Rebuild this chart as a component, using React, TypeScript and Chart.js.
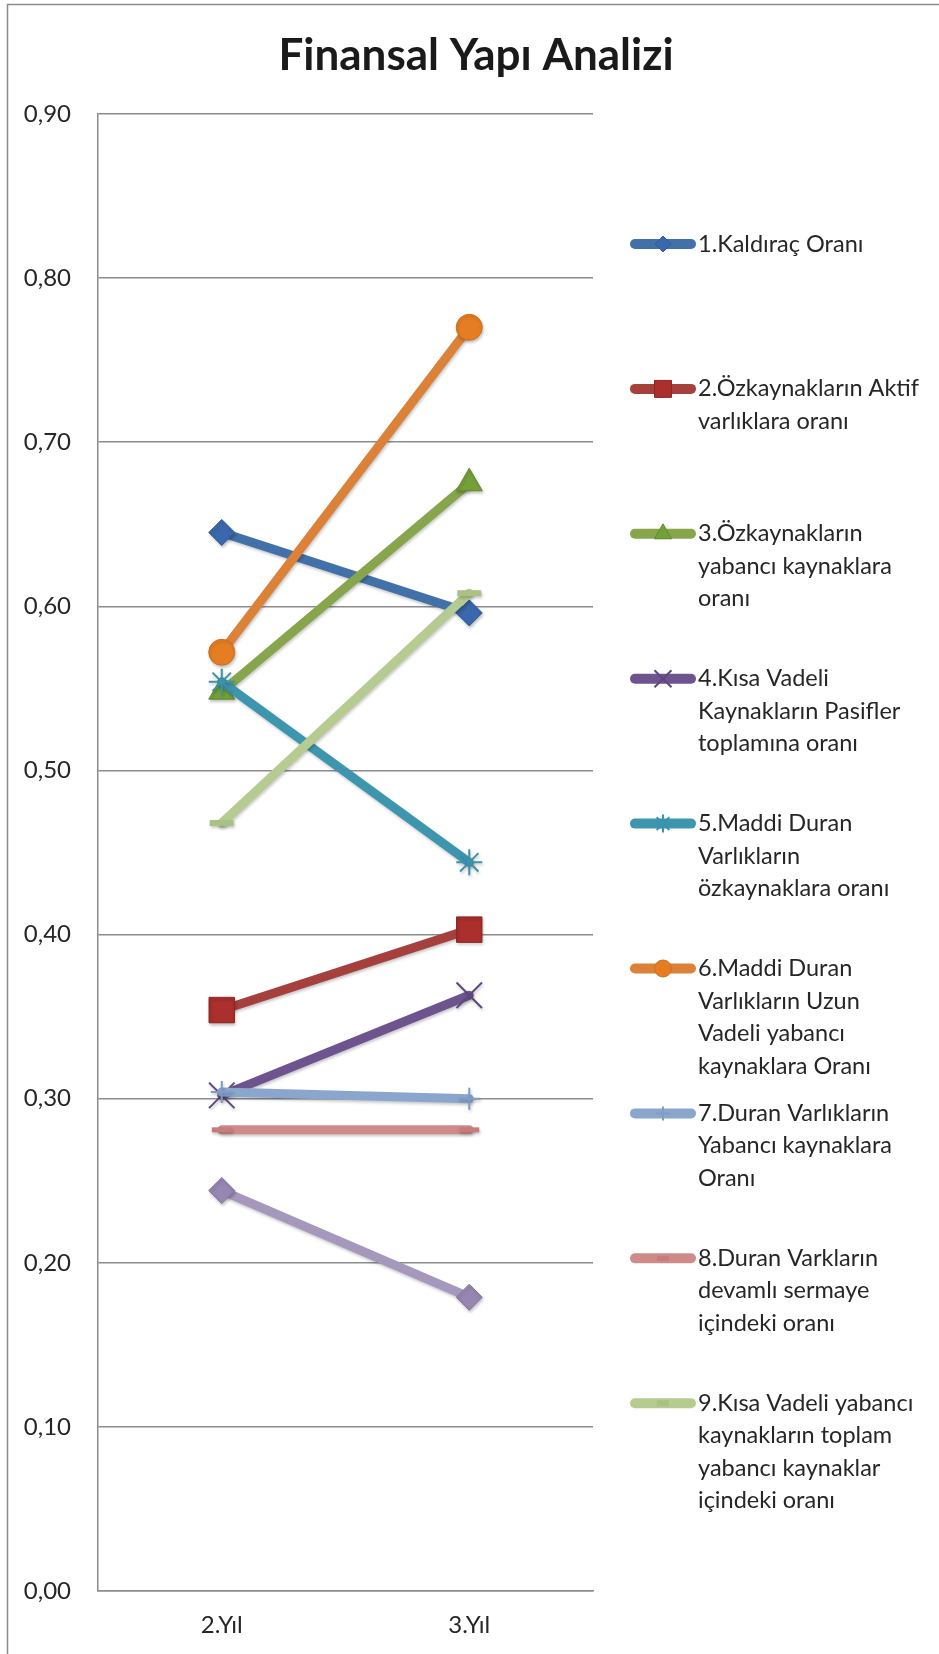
import React, { useEffect, useRef } from 'react';
import { Chart, registerables } from 'chart.js';
import { drawPoint } from 'chart.js/helpers';

Chart.register(...registerables);

// Categories (years)
const years = ['2.Yıl', '3.Yıl'];

// Ratio values per series, one value per year
const kaldiracOrani = [0.645, 0.596];
const ozkaynakAktif = [0.354, 0.403];
const ozkaynakYabanci = [0.548, 0.675];
const kisaVadeliPasif = [0.302, 0.363];
const maddiDuranOzkaynak = [0.554, 0.444];
const maddiDuranUzunVade = [0.572, 0.77];
const duranYabanci = [0.304, 0.3];
const duranDevamli = [0.281, 0.281];
const kisaVadeliYabanci = [0.468, 0.608];
const onuncuSeri = [0.244, 0.179];

// Y axis range and tick step
const yMin = 0;
const yMax = 0.9;
const yStep = 0.1;

// Legend labels (line-wrapped)
const legendLabels: string[][] = [
  ['1.Kaldıraç Oranı'],
  ['2.Özkaynakların Aktif', 'varlıklara oranı'],
  ['3.Özkaynakların', 'yabancı kaynaklara', 'oranı'],
  ['4.Kısa Vadeli', 'Kaynakların Pasifler', 'toplamına oranı'],
  ['5.Maddi Duran', 'Varlıkların', 'özkaynaklara oranı'],
  ['6.Maddi Duran', 'Varlıkların Uzun', 'Vadeli yabancı', 'kaynaklara Oranı'],
  ['7.Duran Varlıkların', 'Yabancı kaynaklara', 'Oranı'],
  ['8.Duran Varkların', 'devamlı sermaye', 'içindeki oranı'],
  ['9.Kısa Vadeli yabancı', 'kaynakların toplam', 'yabancı kaynaklar', 'içindeki oranı'],
];

const title = 'Finansal Yapı Analizi';

type SeriesStyle = {
  line: string;
  fill: string;
  stroke: string;
  style: string;
  radius: number;
  bw: number;
  legendRadius: number;
};

const styles: SeriesStyle[] = [
  { line: '#4270A8', fill: '#3A68AC', stroke: '#30599A', style: 'rectRot', radius: 13, bw: 1, legendRadius: 8 },
  { line: '#A5403D', fill: '#AA2F2D', stroke: '#8E2524', style: 'rect', radius: 18, bw: 1, legendRadius: 12 },
  { line: '#87A54B', fill: '#74A03A', stroke: '#5F8A2E', style: 'triangle', radius: 15, bw: 1, legendRadius: 10 },
  { line: '#6E548E', fill: '#6E548E', stroke: '#5E4680', style: 'crossRot', radius: 18, bw: 2, legendRadius: 12 },
  { line: '#3D96AE', fill: '#3D96AE', stroke: '#3B92AA', style: 'star', radius: 13, bw: 2, legendRadius: 9 },
  { line: '#DB8238', fill: '#E57E22', stroke: '#CC6F20', style: 'circle', radius: 13, bw: 1, legendRadius: 8.5 },
  { line: '#8AA6CD', fill: '#8AA6CD', stroke: '#7E9CC6', style: 'cross', radius: 11, bw: 2, legendRadius: 7 },
  { line: '#CF8B8A', fill: '#CF8B8A', stroke: '#C77C7B', style: 'line', radius: 10, bw: 5, legendRadius: 6 },
  { line: '#B5CB90', fill: '#B5CB90', stroke: '#A9C283', style: 'line', radius: 12, bw: 6, legendRadius: 6 },
  { line: '#A598BC', fill: '#9686B2', stroke: '#8576A3', style: 'rectRot', radius: 13, bw: 1, legendRadius: 8 },
];

const seriesData = [
  kaldiracOrani,
  ozkaynakAktif,
  ozkaynakYabanci,
  kisaVadeliPasif,
  maddiDuranOzkaynak,
  maddiDuranUzunVade,
  duranYabanci,
  duranDevamli,
  kisaVadeliYabanci,
  onuncuSeri,
];

const seriesNames = [
  ...legendLabels.map((l) => l.join(' ')),
  '10.',
];

const FONT = 'Lato, "Open Sans", sans-serif';
const TEXT = '#262626';
const AXIS = '#8c8c8c';

// Outer frame and title
const framePlugin = {
  id: 'frame',
  beforeDraw(chart: any) {
    const { ctx, width, height } = chart;
    ctx.save();
    ctx.fillStyle = '#ffffff';
    ctx.fillRect(0, 0, width, height);
    ctx.strokeStyle = AXIS;
    ctx.lineWidth = 1.5;
    ctx.beginPath();
    ctx.moveTo(7.5, height + 2);
    ctx.lineTo(7.5, 4.5);
    ctx.lineTo(width + 2, 4.5);
    ctx.stroke();
    ctx.restore();
  },
  afterDraw(chart: any) {
    const { ctx } = chart;
    ctx.save();
    ctx.fillStyle = '#1a1a1a';
    ctx.font = `bold 44px ${FONT}`;
    ctx.textAlign = 'center';
    ctx.textBaseline = 'alphabetic';
    ctx.fillText(title, 476, 70);
    ctx.restore();
  },
};

// Soft drop shadow beneath the series lines and markers
const shadowPlugin = {
  id: 'seriesShadow',
  beforeDatasetsDraw(chart: any) {
    const { ctx } = chart;
    ctx.save();
    ctx.shadowColor = 'rgba(0,0,0,0.22)';
    ctx.shadowBlur = 3;
    ctx.shadowOffsetX = 1;
    ctx.shadowOffsetY = 2;
  },
  afterDatasetsDraw(chart: any) {
    chart.ctx.restore();
  },
};

// Legend to the right of the plot, items evenly spaced
const legendPlugin = {
  id: 'sideLegend',
  afterDraw(chart: any) {
    const { ctx, chartArea } = chart;
    const x0 = chartArea.right + 37;
    const x1 = x0 + 66;
    const textX = x1 + 2;
    const firstY = 244;
    const gap = 144.9;
    const lineGap = 32.5;
    ctx.save();
    legendLabels.forEach((lines, i) => {
      const st = styles[i];
      const y = firstY + i * gap;
      ctx.strokeStyle = st.line;
      ctx.lineWidth = 10;
      ctx.lineCap = 'round';
      ctx.beginPath();
      ctx.moveTo(x0 + 5, y);
      ctx.lineTo(x1 - 5, y);
      ctx.stroke();
      ctx.lineCap = 'butt';
      ctx.fillStyle = st.fill;
      ctx.strokeStyle = st.stroke;
      ctx.lineWidth = st.bw;
      drawPoint(ctx, { pointStyle: st.style as any, radius: st.legendRadius, borderWidth: st.bw, rotation: 0 }, (x0 + x1) / 2, y);
      ctx.fillStyle = TEXT;
      ctx.font = `23.5px ${FONT}`;
      ctx.textAlign = 'left';
      ctx.textBaseline = 'middle';
      lines.forEach((t, k) => ctx.fillText(t, textX, y + k * lineGap));
    });
    ctx.restore();
  },
};

export default function App() {
  const ref = useRef<HTMLCanvasElement | null>(null);

  useEffect(() => {
    if (!ref.current) return;
    const datasets = seriesData.map((data, i) => {
      const st = styles[i];
      return {
        label: seriesNames[i],
        data,
        borderColor: st.line,
        backgroundColor: st.fill,
        borderWidth: 9,
        borderCapStyle: 'round' as const,
        borderJoinStyle: 'round' as const,
        pointStyle: st.style as any,
        pointRadius: st.radius,
        pointBackgroundColor: st.fill,
        pointBorderColor: st.stroke,
        pointBorderWidth: st.bw,
        tension: 0,
        fill: false,
        order: 10 - i,
      };
    });

    const chart = new Chart(ref.current, {
      type: 'line',
      data: { labels: years, datasets },
      options: {
        responsive: false,
        animation: false,
        events: [],
        layout: { padding: { left: 0, right: 346, top: 114, bottom: 0 } },
        plugins: {
          legend: { display: false },
          title: { display: false },
          tooltip: { enabled: false },
        },
        scales: {
          x: {
            offset: true,
            grid: { display: false, drawTicks: false },
            border: { display: true, color: AXIS, width: 1.5 },
            ticks: { color: TEXT, font: { family: FONT, size: 24 }, padding: 20 },
            afterFit(scale: any) {
              scale.height = 63;
            },
          },
          y: {
            min: yMin,
            max: yMax,
            grid: { color: AXIS, lineWidth: 1.5, drawTicks: false },
            border: { display: true, color: AXIS, width: 1.5 },
            ticks: {
              stepSize: yStep,
              color: TEXT,
              font: { family: FONT, size: 24 },
              padding: 27,
              callback: (v: any) => Number(v).toFixed(2).replace('.', ','),
            },
            afterFit(scale: any) {
              scale.width = 98;
            },
          },
        },
      },
      plugins: [framePlugin, shadowPlugin, legendPlugin],
    });

    return () => chart.destroy();
  }, []);

  return (
    <div style={{ position: 'absolute', left: 0, top: 0, width: 939, height: 1654, background: '#fff' }}>
      <canvas ref={ref} width={939} height={1654} style={{ width: 939, height: 1654, display: 'block' }} />
    </div>
  );
}
